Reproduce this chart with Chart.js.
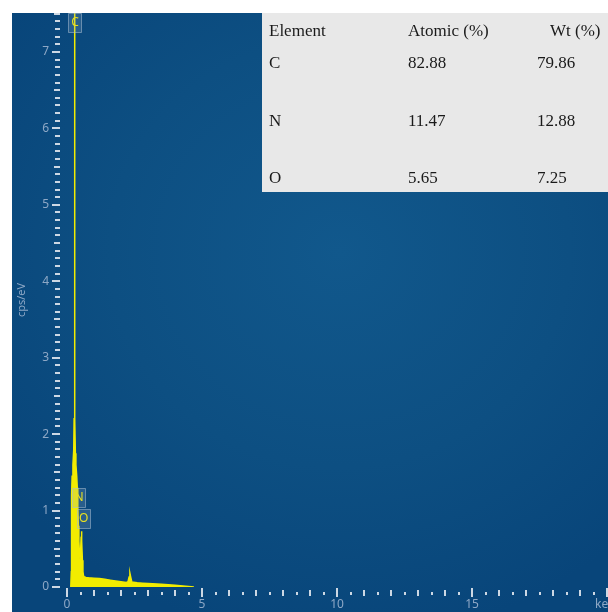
<!DOCTYPE html>
<html>
<head>
<meta charset="utf-8">
<script src="https://cdn.jsdelivr.net/npm/chart.js@4.4.0/dist/chart.umd.min.js"></script>
<style>
  body { margin: 0; background: #fff; width: 608px; height: 612px; overflow: hidden; }
  #panel {
    position: absolute; left: 12px; top: 13px; width: 596px; height: 599px;
    background: radial-gradient(ellipse 70% 65% at 55% 40%, #11588c 0%, #0d4f82 55%, #08457a 100%);
  }
</style>
</head>
<body>
<div id="panel"><canvas id="chartdiv"></canvas></div>
<script>
// EDS spectrum, energy in keV, counts in cps/eV
var energy = [0.14, 0.16, 0.17, 0.19, 0.22, 0.25, 0.264, 0.272, 0.288, 0.296, 0.31, 0.33, 0.36, 0.38,
  0.40, 0.42, 0.44, 0.46, 0.48, 0.50, 0.52, 0.535, 0.55, 0.57, 0.59, 0.61, 0.63, 0.70, 0.80, 1.0, 1.2, 1.4,
  1.6, 1.8, 2.0, 2.2, 2.26, 2.30, 2.33, 2.36, 2.40, 2.6, 2.8, 3.0, 3.5, 4.0, 4.4, 4.7];
var counts = [0, 0.2, 1.2, 1.45, 1.6, 1.8, 2.2, 8.0, 8.0, 2.2, 1.75, 1.6, 1.45, 1.3,
  1.05, 0.8, 0.6, 0.45, 0.37, 0.42, 0.62, 0.73, 0.6, 0.35, 0.2, 0.15, 0.135, 0.125, 0.12, 0.115, 0.11, 0.1,
  0.09, 0.08, 0.07, 0.06, 0.07, 0.13, 0.18, 0.13, 0.065, 0.055, 0.05, 0.045, 0.035, 0.022, 0.01, 0];

// peak markers
var peakNames = ['C', 'N', 'O'];
var peakEnergy = [0.277, 0.392, 0.525];
var peakLabelY = [7.38, 1.165, 0.9];

// quantification table
var tableHeader = ['Element', 'Atomic (%)', 'Wt (%)'];
var elements = ['C', 'N', 'O'];
var atomicPct = ['82.88', '11.47', '5.65'];
var wtPct = ['79.86', '12.88', '7.25'];

var yTickLabels = ['0', '1', '2', '3', '4', '5', '6', '7'];
var xTickValues = [0, 5, 10, 15];
var xUnit = 'keV';
var yUnit = 'cps/eV';

var pts = energy.map(function (e, i) { return { x: e, y: counts[i] }; });

var labelColor = '#8ea8c6';
var tickColor = '#cdd8e4';

var decor = {
  id: 'decor',
  afterDraw: function (chart) {
    var c = chart.ctx;
    var xs = chart.scales.x, ys = chart.scales.y;
    c.save();

    // y ticks, every 0.1
    c.fillStyle = tickColor;
    for (var i = 0; i <= 75; i++) {
      var y = Math.round(ys.getPixelForValue(i / 10));
      var x0 = i % 10 === 0 ? 40 : (i % 5 === 0 ? 42 : 43);
      c.fillRect(x0, y - 1, 48 - x0, 2);
    }
    c.fillStyle = labelColor;
    c.font = '12px "Noto Sans"';
    c.textAlign = 'right';
    c.textBaseline = 'middle';
    yTickLabels.forEach(function (t, k) {
      c.fillText(t, 37, ys.getPixelForValue(k));
    });

    // x ticks, every 0.5 keV
    c.fillStyle = tickColor;
    for (var j = 0; j <= 40; j++) {
      var x = Math.round(xs.getPixelForValue(j / 2));
      var y0 = 579, y1 = 582;
      if (j % 10 === 0) { y0 = 575; y1 = 584; }
      else if (j % 2 === 0) { y0 = 577; y1 = 583; }
      c.fillRect(x - 1, y0, 2, y1 - y0);
    }
    c.fillStyle = labelColor;
    c.textAlign = 'center';
    xTickValues.forEach(function (v) {
      c.fillText(String(v), xs.getPixelForValue(v), 592);
    });
    c.textAlign = 'left';
    c.fillText(xUnit, 583, 592);

    // axis title
    c.save();
    c.translate(10, 287);
    c.rotate(-Math.PI / 2);
    c.textAlign = 'center';
    c.font = '11px "Noto Sans"';
    c.fillText(yUnit, 0, 0);
    c.restore();

    // peak labels
    var offs = [0, 1, 2];
    peakNames.forEach(function (n, k) {
      var px = xs.getPixelForValue(peakEnergy[k]) + offs[k];
      var py = ys.getPixelForValue(peakLabelY[k]);
      c.fillStyle = 'rgba(150,175,200,0.22)';
      c.strokeStyle = 'rgba(170,190,210,0.55)';
      c.lineWidth = 1;
      c.beginPath();
      c.rect(Math.round(px - 6.5) + 0.5, Math.round(py - 9.5) + 0.5, 13, 19);
      c.fill();
      c.stroke();
      c.fillStyle = '#e8e020';
      c.font = '12px "Noto Sans"';
      c.textAlign = 'center';
      c.textBaseline = 'middle';
      c.fillText(n, px + 0.5, py);
    });

    // table
    c.fillStyle = '#e8e8e8';
    c.fillRect(250, 0, 346, 179);
    c.fillStyle = '#1a1a1a';
    c.font = '17px "Liberation Serif"';
    c.textAlign = 'left';
    c.textBaseline = 'alphabetic';
    c.fillText(tableHeader[0], 257, 23);
    c.fillText(tableHeader[1], 396, 23);
    c.fillText(tableHeader[2], 538, 23);
    var rowY = [55, 113, 170];
    elements.forEach(function (el, k) {
      c.fillText(el, 257, rowY[k]);
      c.fillText(atomicPct[k], 396, rowY[k]);
      c.fillText(wtPct[k], 525, rowY[k]);
    });
    c.restore();
  }
};

var ctx = document.querySelector('#chartdiv');
var spectrum = new Chart(ctx, {
  type: 'line',
  data: {
    datasets: [{
      data: pts,
      borderColor: '#f2ec00',
      backgroundColor: '#f2ec00',
      borderWidth: 1.5,
      fill: 'origin',
      pointRadius: 0,
      tension: 0
    }]
  },
  options: {
    responsive: true,
    maintainAspectRatio: false,
    animation: false,
    layout: { padding: { left: 55, right: 1, top: 0, bottom: 25 } },
    plugins: { legend: { display: false }, tooltip: { enabled: false } },
    scales: {
      x: { type: 'linear', min: 0, max: 20, display: false },
      y: { min: 0, max: 7.51, display: false }
    }
  },
  plugins: [decor]
});
</script>
</body>
</html>
